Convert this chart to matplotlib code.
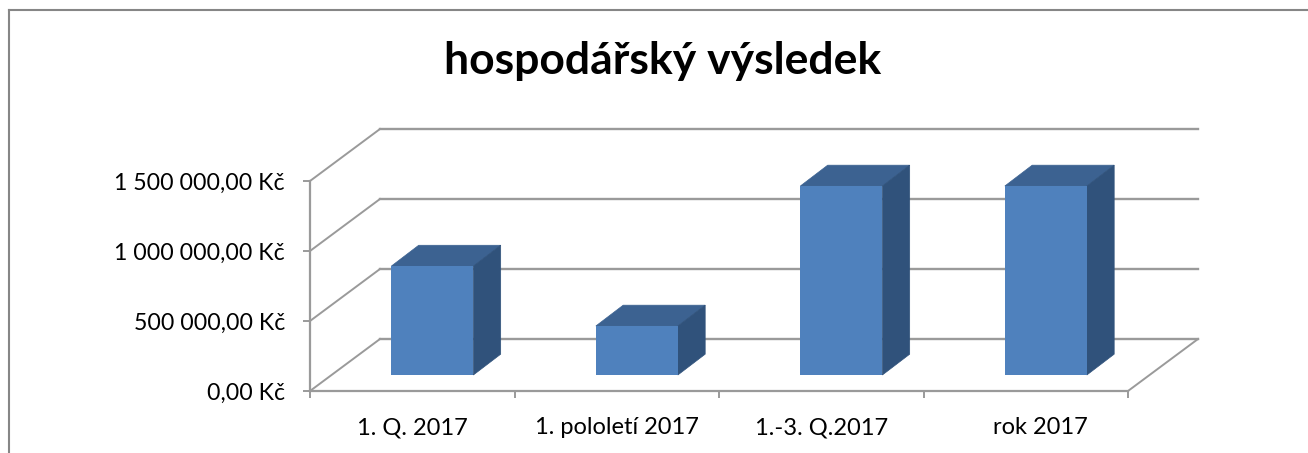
import numpy as np
import matplotlib
matplotlib.use("Agg")
import matplotlib.pyplot as plt
from matplotlib.lines import Line2D
from matplotlib.patches import Polygon

categories = ["1. Q. 2017", "1. pololetí 2017", "1.-3. Q.2017", "rok 2017"]
values = [778000, 350000, 1350000, 1350000]
y_ticks = [0, 500000, 1000000, 1500000]
y_labels = ["0,00 Kč", "500 000,00 Kč", "1 000 000,00 Kč", "1 500 000,00 Kč"]

W, H = 1308, 453
GREY = "#9a9a9a"
plt.rcParams["font.family"] = ["Lato", "DejaVu Sans"]

fig = plt.figure(figsize=(W / 100, H / 100), dpi=100)
ax = fig.add_axes([310 / W, 1 - 391 / H, 818 / W, 210 / H])
ax.set_xlim(0, 4)
ax.set_ylim(0, 1500000)

# depth of the fake 3D box, in data units
depth_x = 70 * 4 / 818
depth_y = 52 * 1500000 / 210

# floor, side wall, back wall gridlines
for v in y_ticks:
    ax.plot([0, depth_x], [v, v + depth_y], color=GREY, lw=1.4, clip_on=False, zorder=1)
    ax.plot([depth_x, 4 + depth_x], [v + depth_y, v + depth_y], color=GREY, lw=1.7,
            clip_on=False, zorder=1)
ax.plot([4, 4 + depth_x], [0, depth_y], color=GREY, lw=1.4, clip_on=False, zorder=1)

# bars
x = np.arange(len(values)) + 0.5
bar_w = 82 * 4 / 818
front = 0.308
bar_dx = 0.39 * depth_x
bar_dy = 0.40 * depth_y
xc = x + front * depth_x - 0.007
base = front * depth_y
ax.bar(xc, values, width=bar_w, bottom=base, color="#4f81bd", clip_on=False, zorder=4)
for xi, v in zip(xc, values):
    l, r = xi - bar_w / 2, xi + bar_w / 2
    t = base + v
    ax.add_patch(Polygon([(l, t), (r, t), (r + bar_dx, t + bar_dy), (l + bar_dx, t + bar_dy)],
                         color="#3c6291", lw=0.5, clip_on=False, zorder=3))
    ax.add_patch(Polygon([(r, base), (r, t), (r + bar_dx, t + bar_dy), (r + bar_dx, base + bar_dy)],
                         color="#30527b", lw=0.5, clip_on=False, zorder=3))

for s in ["top", "right"]:
    ax.spines[s].set_visible(False)
for s in ["left", "bottom"]:
    ax.spines[s].set_color(GREY)
    ax.spines[s].set_linewidth(1.6)

ax.set_yticks(y_ticks)
ax.set_yticklabels(y_labels)
ax.set_xticks(np.arange(5))
ax.set_xticklabels([])
# last label sits a bit right of its slot in the original
ax.set_xticks(x + np.array([0, 0, 0, 0.07]), minor=True)
ax.set_xticklabels(categories, minor=True)
ax.tick_params(axis="both", which="major", color=GREY, width=1.4, length=5)
ax.tick_params(axis="y", labelsize=16.7, pad=13, labelcolor="black")
ax.tick_params(axis="x", which="minor", length=0, labelsize=17, pad=19, labelcolor="black")

fig.text(663 / W, 1 - 61 / H, "hospodářský výsledek", ha="center", va="center",
         fontsize=32, fontweight="bold", color="black")

# chart frame, only top and left edges are visible
fig.add_artist(Line2D([9 / W, 9 / W], [0, 1 - 10 / H], color="#868686", lw=1.5))
fig.add_artist(Line2D([9 / W, 1], [1 - 10 / H, 1 - 10 / H], color="#868686", lw=1.5))

fig.savefig("out.png", dpi=100)
plt.close(fig)
